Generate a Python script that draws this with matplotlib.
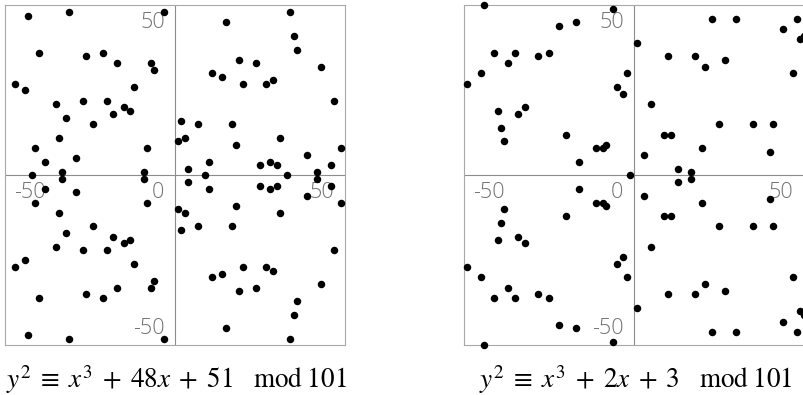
import matplotlib
matplotlib.use("Agg")
import matplotlib.pyplot as plt

# points of y^2 = x^3 + 48x + 51 mod 101 (residues shown in -50..50)
ax_x = [1,1,2,2,3,3,4,4,7,7,9,10,10,11,11,14,14,15,15,17,17,18,18,19,19,20,20,24,24,25,25,27,27,28,28,29,29,30,30,31,31,33,34,34,35,35,36,36,39,39,42,42,43,43,46,46,47,47,49,49,-47,-47,-44,-44,-43,-43,-42,-41,-41,-40,-40,-38,-38,-35,-35,-34,-34,-33,-33,-32,-32,-31,-31,-29,-29,-27,-27,-26,-26,-24,-24,-21,-21,-20,-20,-18,-18,-17,-17,-15,-15,-13,-13,-12,-12,-9,-9,-8,-8,-7,-7,-6,-6,-3,-3]
ax_y = [10,-10,16,-16,11,-11,2,-2,15,-15,0,4,-4,30,-30,29,-29,45,-45,15,-15,9,-9,34,-34,27,-27,33,-33,3,-3,27,-27,4,-4,28,-28,3,-3,11,-11,0,48,-48,41,-41,37,-37,6,-6,1,-1,32,-32,3,-3,22,-22,8,-8,27,-27,25,-25,47,-47,0,8,-8,36,-36,4,-4,21,-21,11,-11,1,-1,17,-17,48,-48,5,-5,22,-22,35,-35,15,-15,36,-36,22,-22,18,-18,33,-33,20,-20,19,-19,26,-26,1,-1,8,-8,33,-33,31,-31,48,-48]

# points of y^2 = x^3 + 2x + 3 mod 101
bx_x = [1,1,3,3,5,5,9,9,10,10,11,11,13,13,17,17,18,18,20,20,21,21,23,23,25,25,27,27,30,30,35,35,40,40,41,41,44,44,47,47,48,48,49,49,50,50,-49,-49,-45,-45,-44,-44,-41,-41,-40,-40,-39,-39,-38,-38,-37,-37,-35,-35,-34,-34,-32,-32,-28,-28,-25,-25,-22,-22,-20,-20,-17,-17,-16,-16,-11,-11,-9,-9,-8,-8,-6,-6,-5,-5,-3,-3,-2,-2,-1]
bx_y = [39,-39,6,-6,21,-21,12,-12,35,-35,12,-12,2,-2,1,-1,35,-35,8,-8,32,-32,46,-46,15,-15,34,-34,46,-46,15,-15,7,-7,15,-15,43,-43,30,-30,46,-46,40,-40,41,-41,27,-27,30,-30,50,-50,36,-36,19,-19,14,-14,10,-10,33,-33,36,-36,18,-18,20,-20,35,-35,36,-36,44,-44,12,-12,45,-45,4,-4,8,-8,8,-8,9,-9,49,-49,26,-26,24,-24,30,-30,0]

captions = [r'$y^2\;\equiv\;x^3\;+\;48x\;+\;51\quad\mathrm{mod}\;101$',
            r'$y^2\;\equiv\;x^3\;+\;2x\;+\;3\quad\mathrm{mod}\;101$']
tick_labels = ['-50', '0', '50']

plt.rcParams['mathtext.fontset'] = 'stix'

W, H = 804, 395
fig = plt.figure(figsize=(W / 100, H / 100), dpi=100)

lefts = [4.7, 463.7]
for i, (xs, ys) in enumerate([(ax_x, ax_y), (bx_x, bx_y)]):
    ax = fig.add_axes([lefts[i] / W, (H - 345.3) / H, 340 / W, 340 / H])
    ax.set_xlim(-50, 50)
    ax.set_ylim(-50, 50)
    for sp in ax.spines.values():
        sp.set_color('#a8a8a8')
        sp.set_linewidth(0.8)
    ax.set_xticks([])
    ax.set_yticks([])
    ax.axhline(0, color='#8c8c8c', lw=0.8, zorder=1)
    ax.axvline(0, color='#8c8c8c', lw=0.8, zorder=1)

    ax.plot(xs, ys, 'o', ms=5.4, color='black', mec='none', clip_on=False, zorder=3)

    lab = dict(color='#727272', fontsize=15.5, family='Open Sans', fontweight='light', zorder=2)
    # x axis labels
    ax.text(-42.6, -5.1, tick_labels[0], ha='center', va='center', **lab)
    ax.text(-4.9, -5.1, tick_labels[1], ha='center', va='center', **lab)
    ax.text(43.3, -5.1, tick_labels[2], ha='center', va='center', **lab)
    # y axis labels
    ax.text(-2.9, 44.8, tick_labels[2], ha='right', va='center', **lab)
    ax.text(-2.9, -45.0, tick_labels[0], ha='right', va='center', **lab)

    cx = (lefts[i] + 172) / W
    fig.text(cx, (H - 388) / H, captions[i], ha='center', va='baseline', fontsize=19.5)

fig.savefig("out.png", dpi=100)
